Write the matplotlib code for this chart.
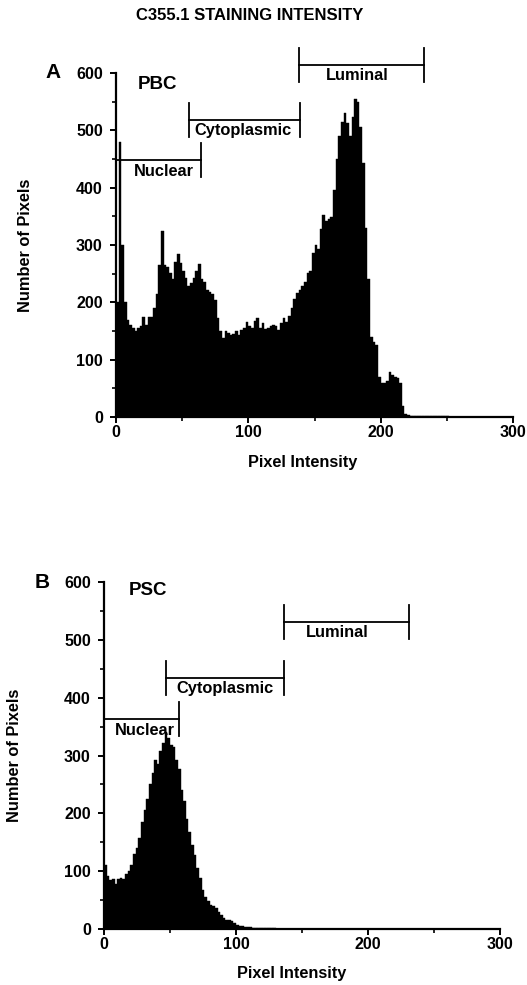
import matplotlib
matplotlib.use("Agg")
import matplotlib.pyplot as plt
from matplotlib.ticker import MultipleLocator

plt.rcParams['font.family'] = ['Liberation Sans', 'DejaVu Sans']
plt.rcParams['font.weight'] = 'bold'

# ---------------- data ----------------
bin_width = 2
intensity = list(range(0, 256, bin_width))  # bin starts (pixel intensity)

pbc_counts = [
    200, 480, 300, 200, 170, 160, 155, 150, 155, 158,   # 0-18
    175, 160, 175, 175, 190, 215, 265, 325, 265, 262,   # 20-38
    252, 240, 270, 285, 268, 255, 242, 228, 233, 242,   # 40-58
    254, 266, 240, 236, 222, 218, 215, 204, 172, 150,   # 60-78
    138, 150, 146, 143, 145, 150, 143, 152, 155, 166,   # 80-98
    158, 156, 168, 172, 155, 164, 153, 155, 159, 161,   # 100-118
    158, 152, 164, 172, 166, 176, 190, 205, 216, 222,   # 120-138
    228, 236, 251, 254, 286, 300, 293, 328, 352, 341,   # 140-158
    345, 349, 396, 450, 490, 515, 530, 512, 490, 524,   # 160-178
    555, 550, 505, 443, 330, 240, 140, 130, 125, 70,    # 180-198
    60, 59, 62, 78, 74, 70, 68, 60, 20, 6,              # 200-218
    3, 2, 1, 1, 1, 1, 1, 1, 1, 1,                       # 220-238
    1, 1, 1, 1, 1, 1, 0, 0,                             # 240-254
]

psc_counts = [
    110, 92, 85, 86, 77, 87, 88, 86, 95, 100,           # 0-18
    110, 130, 140, 158, 185, 205, 225, 250, 270, 292,   # 20-38
    285, 308, 322, 340, 330, 318, 315, 292, 277, 240,   # 40-58
    222, 190, 168, 145, 128, 105, 88, 68, 55, 48,       # 60-78
    42, 40, 36, 30, 24, 19, 16, 15, 13, 10,             # 80-98
    7, 6, 5, 4, 3, 3, 2, 1, 1, 1,                       # 100-118
    1, 1, 1, 1, 1, 0, 0, 0, 0, 0,                       # 120-138
    0, 0, 0, 0, 0, 0, 0, 0, 0, 0,                       # 140-158
    0, 0, 0, 0, 0, 0, 0, 0, 0, 0,                       # 160-178
    0, 0, 0, 0, 0, 0, 0, 0, 0, 0,                       # 180-198
    0, 0, 0, 0, 0, 0, 0, 0, 0, 0,                       # 200-218
    0, 0, 0, 0, 0, 0, 0, 0, 0, 0,                       # 220-238
    0, 0, 0, 0, 0, 0, 0, 0,                             # 240-254
]

region_names = ['Nuclear', 'Cytoplasmic', 'Luminal']
pbc_region_start = [0, 55, 138]
pbc_region_end = [64, 139, 233]
pbc_region_level = [448, 518, 614]
psc_region_start = [0, 47, 136]
psc_region_end = [57, 136, 231]
psc_region_level = [363, 434, 531]

x_ticks = [0, 100, 200, 300]
y_ticks = [0, 100, 200, 300, 400, 500, 600]

title = 'C355.1 STAINING INTENSITY'

# ---------------- figure ----------------
W, H = 527, 985
fig = plt.figure(figsize=(W / 100, H / 100), dpi=100)
fig.patch.set_facecolor('white')

fig.text(250 / W, 1 - 15 / H, title, ha='center', va='center',
         fontsize=12, fontweight='bold')


def draw_panel(rect, counts, starts, ends, levels, label_x, panel_letter,
               sample, letter_xy, sample_xy, ylab_x, xlab_xy):
    ax = fig.add_axes(rect)
    ax.bar(intensity, counts, width=bin_width, align='edge', color='black',
           edgecolor='black', linewidth=0.3)
    ax.set_xlim(0, 300)
    ax.set_ylim(0, 600)
    for s in ('top', 'right'):
        ax.spines[s].set_visible(False)
    for s in ('left', 'bottom'):
        ax.spines[s].set_linewidth(1.6)
    ax.set_xticks(x_ticks)
    ax.set_yticks(y_ticks)
    ax.xaxis.set_minor_locator(MultipleLocator(50))
    ax.yaxis.set_minor_locator(MultipleLocator(50))
    ax.tick_params(which='major', direction='out', length=4, width=1.4,
                   labelsize=11.5)
    ax.tick_params(axis='y', which='major', pad=5.5)
    ax.tick_params(axis='x', which='major', pad=2)
    ax.tick_params(which='minor', direction='out', length=3, width=1.2)
    for lab in ax.get_xticklabels() + ax.get_yticklabels():
        lab.set_fontweight('bold')
    ax.set_xlabel('Pixel Intensity', fontsize=11.7, fontweight='bold',
                  va='center')
    ax.xaxis.set_label_coords(*xlab_xy)
    ax.set_ylabel('Number of Pixels', fontsize=11.8, fontweight='bold',
                  va='center')
    ax.yaxis.set_label_coords(ylab_x, 0.5)

    half = 30
    for name, x0, x1, yl, lx in zip(region_names, starts, ends, levels,
                                    label_x):
        ax.plot([x0, x1], [yl, yl], color='black', lw=1.3, clip_on=False)
        for xe in (x0, x1):
            ax.plot([xe, xe], [yl - half, yl + half], color='black', lw=1.3,
                    clip_on=False)
        ax.annotate(name, xy=(lx, yl), xytext=(0, -2.5),
                    textcoords='offset points', ha='center', va='top',
                    fontsize=11.8, fontweight='bold', annotation_clip=False)
    ax.text(sample_xy[0], sample_xy[1], sample, ha='center', va='center',
            fontsize=13.5, fontweight='bold')
    fig.text(letter_xy[0] / W, 1 - letter_xy[1] / H, panel_letter,
             ha='center', va='center', fontsize=15, fontweight='bold')
    return ax


draw_panel([116 / W, 1 - 417 / H, 397 / W, 344 / H], pbc_counts,
           pbc_region_start, pbc_region_end, pbc_region_level,
           [36, 96, 182],
           'A', 'PBC', (53.5, 72), (31, 580), -0.229, (0.471, -0.131))
draw_panel([104 / W, 1 - 929 / H, 396 / W, 347 / H], psc_counts,
           psc_region_start, psc_region_end, psc_region_level,
           [31, 92, 177],
           'B', 'PSC', (42, 583), (33, 586), -0.225, (0.475, -0.127))

fig.savefig('out.png', dpi=100, facecolor='white')
